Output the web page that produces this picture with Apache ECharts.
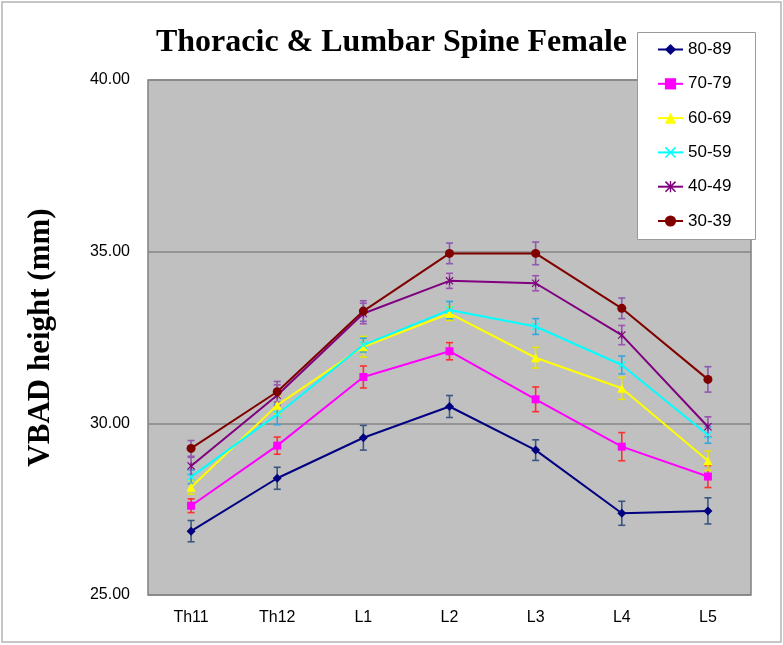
<!DOCTYPE html>
<html>
<head>
<meta charset="utf-8">
<script src="https://cdn.jsdelivr.net/npm/echarts@6/dist/echarts.min.js"></script>
<style>html,body{margin:0;padding:0;background:#fff;}#chart{width:783px;height:645px;}</style>
</head>
<body>
<div id="chart"></div>
<script>
const categories = ['Th11', 'Th12', 'L1', 'L2', 'L3', 'L4', 'L5'];
const seriesNames = ['80-89', '70-79', '60-69', '50-59', '40-49', '30-39'];
const yTicks = [25, 30, 35, 40];

const v80 = [26.86, 28.40, 29.58, 30.49, 29.22, 27.38, 27.45];
const e80 = [0.31, 0.32, 0.36, 0.32, 0.30, 0.35, 0.38];
const v70 = [27.60, 29.35, 31.35, 32.10, 30.70, 29.32, 28.45];
const e70 = [0.20, 0.25, 0.32, 0.25, 0.36, 0.41, 0.32];
const v60 = [28.14, 30.53, 32.23, 33.20, 31.91, 31.02, 28.91];
const e60 = [0.20, 0.25, 0.30, 0.20, 0.30, 0.32, 0.28];
const v50 = [28.44, 30.26, 32.28, 33.30, 32.82, 31.70, 29.66];
const e50 = [0.20, 0.30, 0.20, 0.25, 0.23, 0.26, 0.24];
const v40 = [28.76, 30.82, 33.20, 34.15, 34.08, 32.57, 29.90];
const e40 = [0.25, 0.30, 0.30, 0.22, 0.22, 0.28, 0.29];
const v30 = [29.27, 30.92, 33.27, 34.95, 34.95, 33.35, 31.28];
const e30 = [0.23, 0.30, 0.30, 0.30, 0.33, 0.30, 0.37];

const values = [v80, v70, v60, v50, v40, v30];
const errors = [e80, e70, e60, e50, e40, e30];
const lineColors = ['#000080', '#ff00ff', '#ffff00', '#00ffff', '#800080', '#800000'];
const errColors = ['#3a5580', '#ff3030', '#e6e600', '#33a8e0', '#9a55b0', '#8c5aae'];
const xPath = 'path://M0,1 L1,0 L5,4 L9,0 L10,1 L6,5 L10,9 L9,10 L5,6 L1,10 L0,9 L4,5 Z';
const starPath = 'path://M0,1 L1,0 L5,4 L9,0 L10,1 L6,5 L10,9 L9,10 L5,6 L1,10 L0,9 L4,5 Z M4.4,0 L5.6,0 L5.6,10 L4.4,10 Z';
const symbols = ['diamond', 'rect', 'triangle', xPath, starPath, 'circle'];
const symbolSizes = [9, 8, 9, 8, 8, 9];

const chart = echarts.init(document.getElementById('chart'), null, {renderer: 'canvas'});

const series = [];
values.forEach((vals, i) => {
  series.push({
    name: seriesNames[i] + ' err',
    type: 'custom',
    z: 2,
    data: vals.map((v, k) => [k, v, errors[i][k]]),
    encode: {x: 0, y: 1},
    renderItem: function (params, api) {
      const x = api.value(0), v = api.value(1), e = api.value(2);
      const t = api.coord([x, v + e]);
      const b = api.coord([x, v - e]);
      const hw = 3.5;
      const st = {stroke: errColors[i], lineWidth: 1.6};
      return {
        type: 'group',
        children: [
          {type: 'line', shape: {x1: t[0], y1: t[1], x2: b[0], y2: b[1]}, style: st},
          {type: 'line', shape: {x1: t[0] - hw, y1: t[1], x2: t[0] + hw, y2: t[1]}, style: st},
          {type: 'line', shape: {x1: b[0] - hw, y1: b[1], x2: b[0] + hw, y2: b[1]}, style: st}
        ]
      };
    },
    silent: true
  });
});
values.forEach((vals, i) => {
  series.push({
    name: seriesNames[i],
    type: 'line',
    z: 3,
    data: vals,
    symbol: symbols[i],
    symbolSize: symbolSizes[i],
    showAllSymbol: true,
    lineStyle: {color: lineColors[i], width: 2},
    itemStyle: {color: lineColors[i], borderWidth: 0},
    emphasis: {disabled: true},
    animation: false
  });
});

chart.setOption({
  animation: false,
  backgroundColor: '#ffffff',
  title: {
    text: 'Thoracic & Lumbar Spine Female',
    left: 'center',
    top: 27,
    padding: 0,
    textStyle: {fontFamily: 'Liberation Serif', fontWeight: 'bold', fontSize: 32, color: '#000'}
  },
  graphic: [
    {type: 'rect', z: -10, shape: {x: 2, y: 2, width: 779, height: 640}, style: {fill: 'none', stroke: '#b4b4b4', lineWidth: 1.5}},
    {type: 'rect', z: 100, zlevel: 0, shape: {x: 637.5, y: 32.5, width: 118, height: 207}, style: {fill: '#ffffff', stroke: '#9a9a9a', lineWidth: 1}}
  ],
  legend: {
    data: seriesNames,
    orient: 'vertical',
    left: 637,
    top: 32,
    padding: [9, 10, 9, 20],
    itemGap: 17.3,
    itemWidth: 25,
    itemHeight: 14,
    z: 200,
    textStyle: {fontFamily: 'Liberation Sans', fontSize: 17, lineHeight: 17, color: '#000'},
    selectedMode: false
  },
  grid: {
    left: 148, right: 32, top: 80, bottom: 50,
    show: true,
    backgroundColor: '#c0c0c0',
    borderColor: '#808080',
    borderWidth: 1.5
  },
  xAxis: {
    type: 'category',
    data: categories,
    boundaryGap: true,
    axisLine: {show: false},
    axisTick: {show: false},
    axisLabel: {margin: 15, fontFamily: 'Liberation Sans', fontSize: 16, color: '#000'}
  },
  yAxis: {
    type: 'value',
    min: yTicks[0],
    max: yTicks[yTicks.length - 1],
    interval: 5,
    name: 'VBAD height (mm)',
    nameLocation: 'middle',
    nameGap: 92,
    nameTextStyle: {fontFamily: 'Liberation Serif', fontWeight: 'bold', fontSize: 31, color: '#000'},
    axisLine: {show: false},
    axisTick: {show: false},
    splitLine: {show: true, lineStyle: {color: '#868686', width: 1.5}},
    axisLabel: {margin: 18, fontFamily: 'Liberation Sans', fontSize: 16, color: '#000', formatter: v => v.toFixed(2)}
  },
  series: series
});
</script>
</body>
</html>
